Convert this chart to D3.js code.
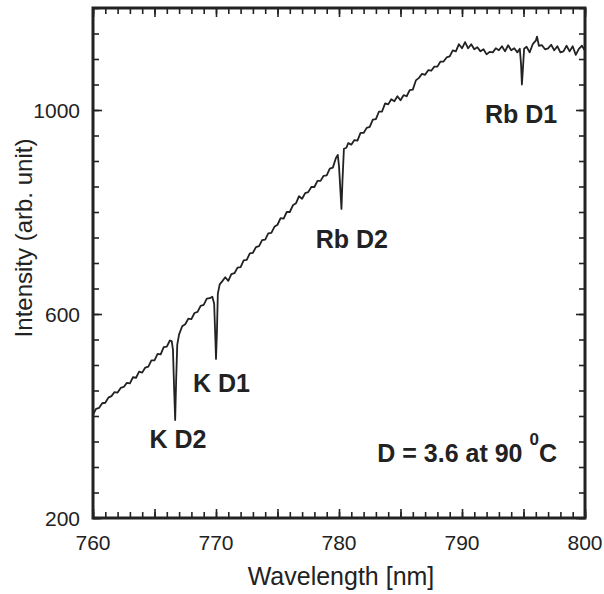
<!DOCTYPE html>
<html>
<head>
<meta charset="utf-8">
<script src="https://cdn.jsdelivr.net/npm/d3@7"></script>
<style>
  body { margin: 0; background: #fff; }
  svg text { font-family: "Liberation Sans", Arial, sans-serif; fill: #222; }
</style>
</head>
<body>
<div id="chart"></div>
<script>
// wavelength (nm)
const wavelength = [
  760.0, 760.25, 760.5, 760.75, 761.0, 761.25, 761.5, 761.75, 762.0, 762.25,
  762.5, 762.75, 763.0, 763.25, 763.5, 763.75, 764.0, 764.25, 764.5, 764.75,
  765.0, 765.25, 765.5, 765.75, 766.0, 766.25, 766.4, 766.5, 766.6, 766.68,
  766.76, 766.85, 767.0, 767.25, 767.5, 767.75, 768.0, 768.25, 768.5, 768.75,
  769.0, 769.25, 769.5, 769.7, 769.85, 769.95, 770.0, 770.07, 770.15, 770.3,
  770.5, 770.75, 771.0, 771.25, 771.5, 771.75, 772.0, 772.25, 772.5, 772.75,
  773.0, 773.25, 773.5, 773.75, 774.0, 774.25, 774.5, 774.75, 775.0, 775.25,
  775.5, 775.75, 776.0, 776.25, 776.5, 776.75, 777.0, 777.25, 777.5, 777.75,
  778.0, 778.25, 778.5, 778.75, 779.0, 779.25, 779.5, 779.75, 779.9, 780.0,
  780.12, 780.2, 780.28, 780.4, 780.6, 780.75, 781.0, 781.25, 781.5, 781.75,
  782.0, 782.25, 782.5, 782.75, 783.0, 783.25, 783.5, 783.75, 784.0, 784.25,
  784.5, 784.75, 785.0, 785.25, 785.5, 785.75, 786.0, 786.25, 786.5, 786.75,
  787.0, 787.25, 787.5, 787.75, 788.0, 788.25, 788.5, 788.75, 789.0, 789.25,
  789.5, 789.75, 790.0, 790.25, 790.5, 790.75, 791.0, 791.25, 791.5, 791.75,
  792.0, 792.25, 792.5, 792.75, 793.0, 793.25, 793.5, 793.75, 794.0, 794.25,
  794.5, 794.7, 794.8, 794.87, 794.95, 795.05, 795.25, 795.5, 795.75, 796.0,
  796.1, 796.25, 796.5, 796.75, 797.0, 797.25, 797.5, 797.75, 798.0, 798.25,
  798.5, 798.75, 799.0, 799.25, 799.5, 799.75, 800.0
];
// intensity (arb. unit)
const intensity = [
  403, 414, 416, 425, 426, 436, 439, 447, 446, 455,
  457, 465, 464, 476, 475, 487, 485, 495, 497, 509,
  509, 522, 521, 535, 536, 548, 547, 530, 450, 392,
  470, 540, 560, 576, 580, 591, 590, 602, 604, 616,
  618, 630, 631, 634, 620, 550, 512, 560, 640, 658,
  664, 672, 665, 678, 680, 691, 692, 705, 706, 719,
  720, 731, 733, 745, 746, 758, 759, 771, 775, 788,
  787, 800, 800, 813, 817, 831, 826, 837, 839, 849,
  849, 861, 861, 871, 872, 885, 887, 906, 912, 890,
  840, 806, 860, 924, 926, 935, 932, 941, 940, 955,
  955, 965, 967, 981, 982, 997, 997, 1013, 1011, 1021,
  1017, 1027, 1019, 1029, 1027, 1039, 1040, 1058, 1063, 1071,
  1069, 1078, 1077, 1085, 1085, 1095, 1095, 1103, 1105, 1117,
  1115, 1129, 1121, 1133, 1121, 1129, 1119, 1123, 1115, 1119,
  1109, 1114, 1113, 1121, 1117, 1125, 1115, 1127, 1117, 1121,
  1113, 1120, 1090, 1050, 1080, 1120, 1124, 1113, 1129, 1136,
  1144, 1126, 1127, 1119, 1121, 1128, 1117, 1125, 1113, 1115,
  1126, 1115, 1125, 1108, 1120, 1126, 1116
];

const xTickLabels = [760, 770, 780, 790, 800];
const yTickLabels = [200, 600, 1000];
const xMinorTicks = d3.range(760, 801, 1);
const xMajorTicks = d3.range(760, 801, 5);
const yMinorTicks = d3.range(200, 1201, 50);
const yMajorTicks = [200, 600, 1000];

const lineLabels = [
  { text: "K D2", wl: 766.9, val: 337 },
  { text: "K D1", wl: 770.45, val: 447 },
  { text: "Rb D2", wl: 781.05, val: 729 },
  { text: "Rb D1", wl: 794.8, val: 975 }
];

const width = 604, height = 594;
const margin = { top: 8, right: 19, bottom: 76, left: 93 };
const plotW = width - margin.left - margin.right;
const plotH = height - margin.top - margin.bottom;

const x = d3.scaleLinear().domain([760, 800]).range([0, plotW]);
const y = d3.scaleLinear().domain([200, 1200]).range([plotH, 0]);

const svg = d3.select("#chart")
  .append("svg")
  .attr("width", width)
  .attr("height", height);

const g = svg.append("g").attr("transform", `translate(${margin.left},${margin.top})`);

const ink = "#222";

// inward ticks on all four sides, drawn with d3 axes
function addTicks(axis, transform) {
  const a = g.append("g").attr("transform", transform).call(axis);
  a.select(".domain").remove();
  a.selectAll(".tick line").attr("stroke", ink).attr("stroke-width", 1.6);
  a.selectAll(".tick text").remove();
}
[[xMinorTicks, 6], [xMajorTicks, 9]].forEach(([vals, len]) => {
  addTicks(d3.axisBottom(x).tickValues(vals).tickSize(-len), `translate(0,${plotH})`);
  addTicks(d3.axisTop(x).tickValues(vals).tickSize(-len), "translate(0,0)");
});
[[yMinorTicks, 6], [yMajorTicks, 9]].forEach(([vals, len]) => {
  addTicks(d3.axisLeft(y).tickValues(vals).tickSize(-len), "translate(0,0)");
  addTicks(d3.axisRight(y).tickValues(vals).tickSize(-len), `translate(${plotW},0)`);
});

// spectrum
const pts = wavelength.map((w, i) => [w, intensity[i]]);
g.append("path")
  .datum(pts)
  .attr("fill", "none")
  .attr("stroke", ink)
  .attr("stroke-width", 1.8)
  .attr("stroke-linejoin", "round")
  .attr("d", d3.line().x(d => x(d[0])).y(d => y(d[1])));

// frame
g.append("rect")
  .attr("width", plotW).attr("height", plotH)
  .attr("fill", "none").attr("stroke", ink).attr("stroke-width", 3);

// tick labels
g.selectAll(".xl").data(xTickLabels).enter().append("text")
  .attr("x", d => x(d)).attr("y", plotH + 32)
  .attr("text-anchor", "middle").attr("font-size", 21)
  .text(d => d);
g.selectAll(".yl").data(yTickLabels).enter().append("text")
  .attr("x", -13).attr("y", d => y(d) + 8)
  .attr("text-anchor", "end").attr("font-size", 21)
  .text(d => d);

// axis titles
svg.append("text")
  .attr("x", 341).attr("y", 585)
  .attr("text-anchor", "middle").attr("font-size", 25)
  .text("Wavelength [nm]");
svg.append("text")
  .attr("transform", "translate(32,238) rotate(-90)")
  .attr("text-anchor", "middle").attr("font-size", 24)
  .text("Intensity (arb. unit)");

// absorption line labels
g.selectAll(".al").data(lineLabels).enter().append("text")
  .attr("x", d => x(d.wl)).attr("y", d => y(d.val))
  .attr("text-anchor", "middle").attr("font-size", 25).attr("font-weight", "bold")
  .text(d => d.text);

const note = svg.append("text")
  .attr("x", 557).attr("y", 462)
  .attr("text-anchor", "end").attr("font-size", 25).attr("font-weight", "bold");
note.append("tspan").text("D = 3.6 at 90 ");
note.append("tspan").attr("dy", -17).attr("font-size", 17).text("0");
note.append("tspan").attr("dy", 17).text("C");
</script>
</body>
</html>
